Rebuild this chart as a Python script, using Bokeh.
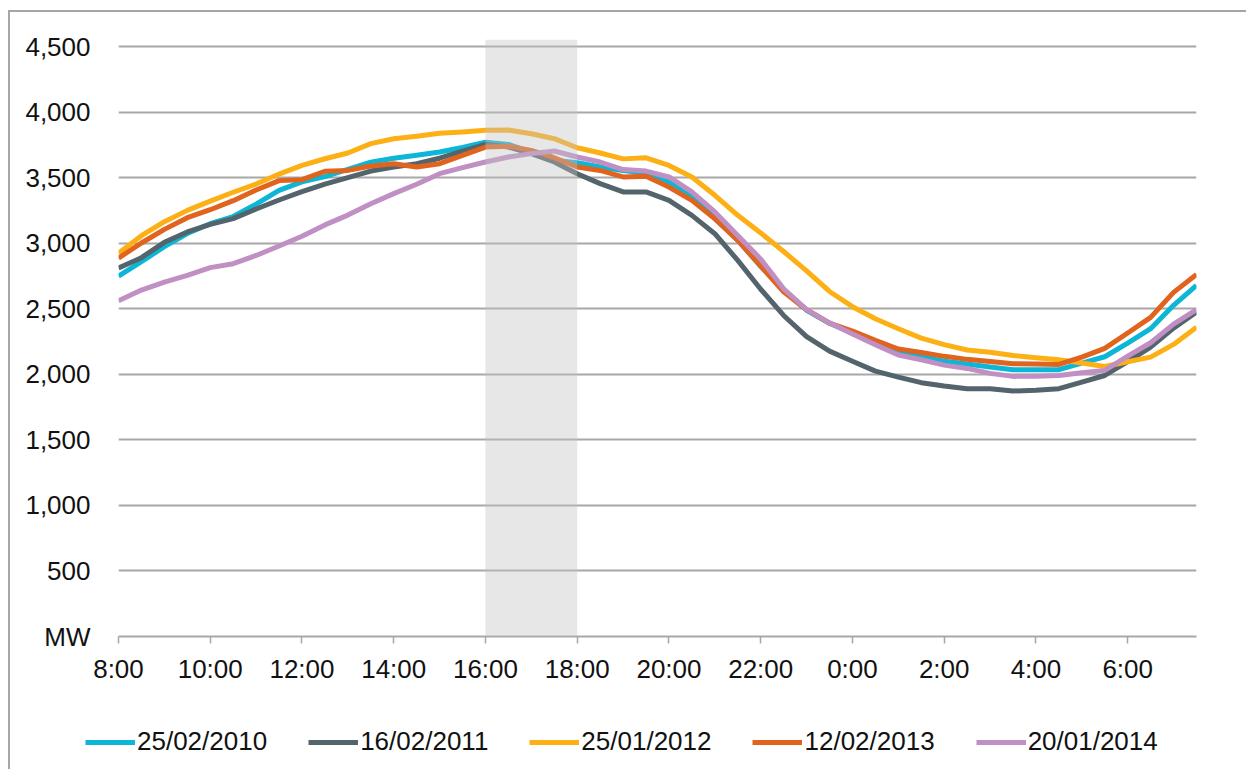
from bokeh.plotting import figure
from bokeh.layouts import column
from bokeh.models import (Range1d, FixedTicker, BoxAnnotation, Legend, LegendItem,
                          CustomJSTickFormatter)
from bokeh.embed import file_html
from bokeh.resources import INLINE

# half-hourly slots, hours after 8:00 (8:00 ... 7:30 next day)
HOURS = [i * 0.5 for i in range(48)]

X_TICKS = [0, 2, 4, 6, 8, 10, 12, 14, 16, 18, 20, 22]
X_TICK_LABELS = ["8:00", "10:00", "12:00", "14:00", "16:00", "18:00",
                 "20:00", "22:00", "0:00", "2:00", "4:00", "6:00"]
Y_TICKS = [0, 500, 1000, 1500, 2000, 2500, 3000, 3500, 4000, 4500]

# shaded peak window 16:00-18:00 (hours after 8:00)
BAND = [8, 10]

LABELS = ["25/02/2010", "16/02/2011", "25/01/2012", "12/02/2013", "20/01/2014"]
COLORS = ["#0BB6D6", "#54646C", "#FDB015", "#E0641E", "#C08FC4"]

d2010 = [2750, 2860, 2975, 3075, 3150, 3205, 3300, 3405, 3470, 3510,
         3565, 3620, 3650, 3672, 3697, 3732, 3772, 3755, 3697, 3635,
         3615, 3583, 3557, 3537, 3468, 3367, 3190, 3025, 2825, 2640,
         2490, 2390, 2315, 2235, 2170, 2135, 2100, 2080, 2056, 2036,
         2036, 2036, 2087, 2135, 2239, 2349, 2527, 2680]
d2011 = [2812, 2891, 3008, 3087, 3145, 3189, 3262, 3331, 3395, 3453,
         3502, 3552, 3583, 3608, 3650, 3705, 3756, 3735, 3685, 3621,
         3532, 3456, 3393, 3393, 3328, 3214, 3074, 2870, 2650, 2450,
         2288, 2178, 2101, 2025, 1980, 1937, 1911, 1891, 1891, 1873,
         1880, 1891, 1941, 1992, 2097, 2209, 2353, 2477]
d2012 = [2925, 3059, 3166, 3252, 3323, 3390, 3453, 3529, 3595, 3646,
         3690, 3761, 3799, 3817, 3840, 3850, 3863, 3866, 3837, 3799,
         3730, 3690, 3645, 3653, 3595, 3507, 3367, 3214, 3080, 2938,
         2790, 2633, 2517, 2425, 2349, 2277, 2227, 2186, 2170, 2145,
         2127, 2112, 2087, 2061, 2097, 2132, 2229, 2361]
d2013 = [2888, 3003, 3107, 3196, 3257, 3326, 3407, 3479, 3486, 3550,
         3557, 3590, 3608, 3583, 3608, 3672, 3735, 3741, 3710, 3654,
         3583, 3557, 3507, 3512, 3430, 3328, 3188, 3023, 2827, 2630,
         2494, 2392, 2331, 2260, 2194, 2168, 2138, 2115, 2099, 2082,
         2079, 2076, 2132, 2199, 2316, 2435, 2626, 2763]
d2014 = [2563, 2644, 2705, 2756, 2815, 2845, 2908, 2980, 3054, 3141,
         3216, 3303, 3380, 3451, 3532, 3578, 3621, 3659, 3685, 3705,
         3659, 3621, 3563, 3552, 3507, 3393, 3240, 3061, 2880, 2654,
         2494, 2394, 2308, 2227, 2148, 2112, 2071, 2046, 2008, 1985,
         1987, 1992, 2013, 2031, 2140, 2242, 2384, 2494]
SERIES = [d2010, d2011, d2012, d2013, d2014]

FONT = "Liberation Sans"
GRID = "#A8A8A8"
TXT = "#111111"

# ---- main chart -------------------------------------------------------------
p = figure(width=1236, height=678, output_backend="svg", toolbar_location=None,
           x_range=Range1d(0, 23.5), y_range=Range1d(0, 4556),
           min_border_left=108, min_border_right=50, min_border_top=27,
           min_border_bottom=54)
p.outline_line_color = None
p.background_fill_color = "white"

p.yaxis.ticker = FixedTicker(ticks=Y_TICKS)
p.yaxis.formatter = CustomJSTickFormatter(
    code="return tick == 0 ? 'MW' : Math.round(tick).toLocaleString('en-US');")
p.yaxis.axis_line_color = None
p.yaxis.major_tick_line_color = None
p.yaxis.minor_tick_line_color = None
p.yaxis.major_label_standoff = 22
p.yaxis.major_label_text_font = FONT
p.yaxis.major_label_text_font_size = "26px"
p.yaxis.major_label_text_color = TXT

p.xaxis.ticker = FixedTicker(ticks=X_TICKS)
p.xaxis.formatter = CustomJSTickFormatter(args=dict(labels=X_TICK_LABELS),
                                          code="return labels[Math.round(tick / 2)];")
p.xaxis.axis_line_color = GRID
p.xaxis.axis_line_width = 2
p.xaxis.major_tick_line_color = GRID
p.xaxis.major_tick_line_width = 1.5
p.xaxis.major_tick_out = 7
p.xaxis.major_tick_in = 0
p.xaxis.minor_tick_line_color = None
p.xaxis.major_label_standoff = 10
p.xaxis.major_label_text_font = FONT
p.xaxis.major_label_text_font_size = "26px"
p.xaxis.major_label_text_color = TXT

p.xgrid.visible = False
p.ygrid.ticker = FixedTicker(ticks=Y_TICKS[1:])
p.ygrid.grid_line_color = GRID
p.ygrid.grid_line_width = 2

for col, vals in zip(COLORS, SERIES):
    p.line(HOURS, vals, line_color=col, line_width=5, line_join="round")

band = BoxAnnotation(left=BAND[0], right=BAND[1], fill_color="#C4C4C4",
                     fill_alpha=0.4, line_color=None)
p.add_layout(band)

# ---- legend strip (same series, drawn out of view; only the legend shows) -----
q = figure(width=1236, height=79, output_backend="svg", toolbar_location=None,
           x_range=Range1d(0, 1), y_range=Range1d(0, 1),
           x_axis_type=None, y_axis_type=None,
           min_border_left=108, min_border_right=10, min_border_top=0,
           min_border_bottom=0)
q.outline_line_color = None
q.background_fill_alpha = 0
q.border_fill_alpha = 0
q.styles = {"margin-left": "-33px"}
items = []
for lab, col, vals in zip(LABELS, COLORS, SERIES):
    r = q.line(HOURS, vals, line_color=col, line_width=5)
    items.append(LegendItem(label=lab, renderers=[r]))
legend = Legend(items=items, orientation="horizontal", location=(0, 12),
                label_text_font=FONT, label_text_font_size="26px",
                label_text_color=TXT, glyph_width=50, glyph_height=26,
                label_standoff=2, spacing=41, padding=0, margin=0,
                border_line_color=None, background_fill_alpha=0)
q.add_layout(legend, "center")

layout = column(p, q, spacing=0)
layout.styles = {"margin-left": "8px", "margin-top": "10px",
                 "border-left": "2px solid #A6A6A6", "border-top": "2px solid #A6A6A6"}

open("out.html", "w").write(file_html(layout, INLINE))
